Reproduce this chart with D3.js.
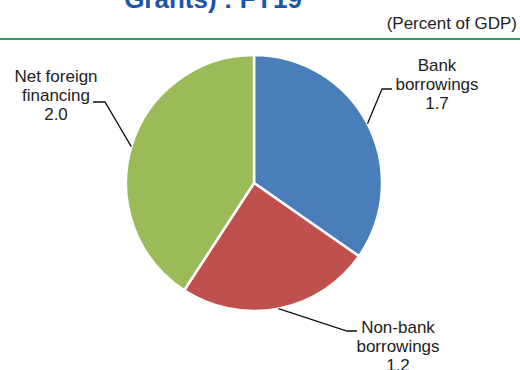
<!DOCTYPE html>
<html>
<head>
<meta charset="utf-8">
<script src="https://cdn.jsdelivr.net/npm/d3@7"></script>
<style>
  html, body { margin: 0; padding: 0; background: #fff; }
  #chart { width: 520px; height: 370px; }
  text { font-family: Arial, "Liberation Sans", sans-serif; }
</style>
</head>
<body>
<div id="chart"></div>
<script>
// data
var categories = ['Bank borrowings', 'Non-bank borrowings', 'Net foreign financing']
var values = [1.7, 1.2, 2.0]
var labelLines = [['Bank', 'borrowings'], ['Non-bank', 'borrowings'], ['Net foreign', 'financing']]
var colors = ['#4a7ebb', '#c0504d', '#9bbb59']
var titleText = 'Grants) : FY19'
var unitText = '(Percent of GDP)'

var width = 520, height = 370
var cx = 254, cy = 183, radius = 128

// where each label sits, relative to the pie centre: elbow, tail end, first text baseline
var labelLayout = [
	{ elbow: [128, -94], tail: [138, -94], text: [183, -112] },
	{ elbow: [93, 148], tail: [103, 148], text: [144, 150] },
	{ elbow: [-149, -81], tail: [-161, -81], text: [-198, -101] }
]

var svg = d3.select('#chart').append('svg')
	.attr('width', width)
	.attr('height', height)

svg.append('text')
	.attr('x', 213)
	.attr('y', 8)
	.attr('text-anchor', 'middle')
	.style('font-size', '26px')
	.style('font-weight', 'bold')
	.attr('fill', '#1c55a9')
	.text(titleText)

svg.append('text')
	.attr('x', 517)
	.attr('y', 29)
	.attr('text-anchor', 'end')
	.style('font-size', '17px')
	.attr('fill', '#222')
	.text(unitText)

svg.append('line')
	.attr('x1', 0).attr('x2', width)
	.attr('y1', 39).attr('y2', 39)
	.attr('stroke', '#2ea05a')
	.attr('stroke-width', 2)

var data = categories.map(function(c, i) {
	return { name: c, value: values[i], lines: labelLines[i], color: colors[i], layout: labelLayout[i] }
})

var pie = d3.pie()
	.sort(null)
	.value(function(d) { return d.value })

var arc = d3.arc().innerRadius(0).outerRadius(radius)
var edgeArc = d3.arc().innerRadius(radius).outerRadius(radius)

var g = svg.append('g')
	.attr('transform', 'translate(' + cx + ',' + cy + ')')

var arcs = pie(data)

g.selectAll('path.slice').data(arcs)
	.enter().append('path')
		.attr('class', 'slice')
		.attr('d', arc)
		.attr('fill', function(d) { return d.data.color })
		.attr('stroke', '#fff')
		.attr('stroke-width', 2.5)
		.attr('stroke-linejoin', 'round')

// leader lines start at the slice's mid-angle on the rim
g.selectAll('path.leader').data(arcs)
	.enter().append('path')
		.attr('class', 'leader')
		.attr('fill', 'none')
		.attr('stroke', '#111')
		.attr('stroke-width', 1.3)
		.attr('d', function(d) {
			var p = edgeArc.centroid(d)
			var l = d.data.layout
			return 'M' + p[0] + ',' + p[1] + ' L' + l.elbow[0] + ',' + l.elbow[1] + ' L' + l.tail[0] + ',' + l.tail[1]
		})

var labels = g.selectAll('text.lbl').data(arcs)
	.enter().append('text')
		.attr('class', 'lbl')
		.attr('text-anchor', 'middle')
		.attr('fill', '#222')
		.style('font-size', '17px')
		.attr('transform', function(d) { return 'translate(' + d.data.layout.text[0] + ',' + d.data.layout.text[1] + ')' })

labels.each(function(d) {
	var t = d3.select(this)
	var lines = d.data.lines.concat([d3.format('.1f')(d.data.value)])
	lines.forEach(function(s, i) {
		t.append('tspan')
			.attr('x', 0)
			.attr('y', i * 19)
			.text(s)
	})
})
</script>
</body>
</html>
